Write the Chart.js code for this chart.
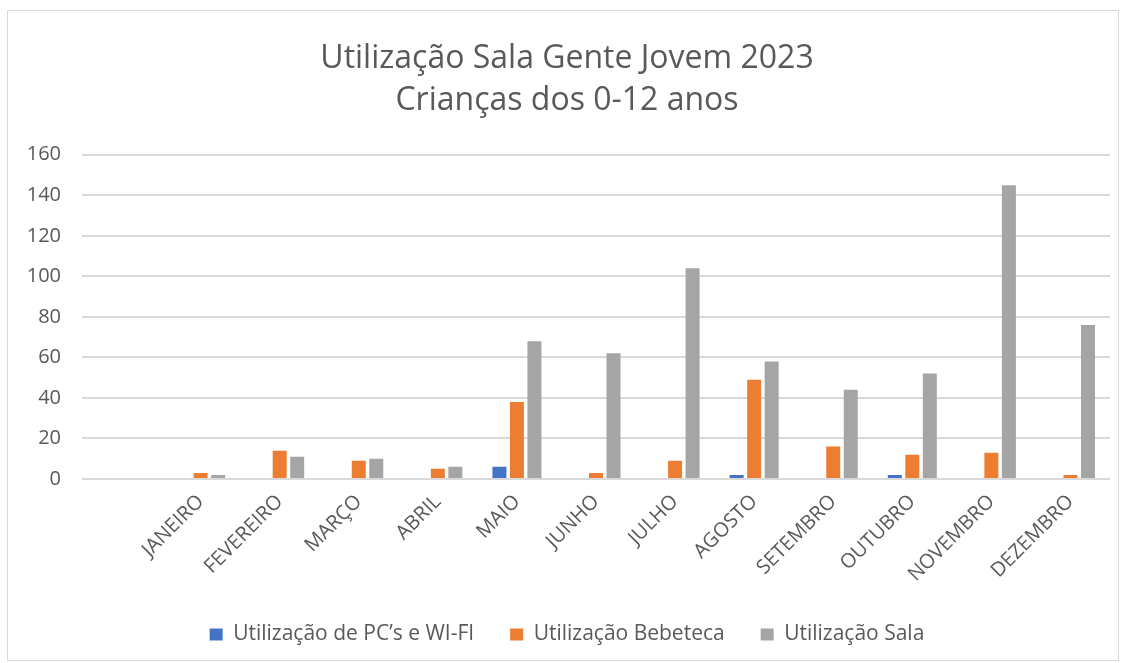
<!DOCTYPE html>
<html>
<head>
<meta charset="utf-8">
<script src="https://cdn.jsdelivr.net/npm/chart.js@4"></script>
<style>
  html, body { margin: 0; padding: 0; background: #fff; }
  #frame {
    position: absolute; left: 7px; top: 10px;
    width: 1110px; height: 649px;
    border: 1px solid #d9d9d9;
  }
</style>
</head>
<body>
<div id="frame"><canvas id="chart"></canvas></div>
<script>
// primeira categoria vazia, como no gráfico original
const meses = ['', 'JANEIRO', 'FEVEREIRO', 'MARÇO', 'ABRIL', 'MAIO', 'JUNHO', 'JULHO',
  'AGOSTO', 'SETEMBRO', 'OUTUBRO', 'NOVEMBRO', 'DEZEMBRO'];
const pcWifi   = [null, 0, 0, 0, 0, 6, 0, 0, 2, 0, 2, 0, 0];
const bebeteca = [null, 3, 14, 9, 5, 38, 3, 9, 49, 16, 12, 13, 2];
const sala     = [null, 2, 11, 10, 6, 68, 62, 104, 58, 44, 52, 145, 76];
const yTicks = [0, 20, 40, 60, 80, 100, 120, 140, 160];

const fonte = "'Open Sans', sans-serif";
const cinza = '#595959';

new Chart(document.getElementById('chart'), {
  type: 'bar',
  data: {
    labels: meses,
    datasets: [
      { label: 'Utilização de PC’s e WI-FI', data: pcWifi, backgroundColor: '#4472c4' },
      { label: 'Utilização Bebeteca', data: bebeteca, backgroundColor: '#ed7d31' },
      { label: 'Utilização Sala', data: sala, backgroundColor: '#a5a5a5' }
    ]
  },
  options: {
    responsive: true,
    maintainAspectRatio: false,
    animation: false,
    datasets: {
      bar: { categoryPercentage: 0.664, barPercentage: 0.8 }
    },
    layout: { padding: { left: 16, right: 8, top: 14, bottom: 5 } },
    plugins: {
      title: {
        display: true,
        text: ['Utilização Sala Gente Jovem 2023', 'Crianças dos 0-12 anos'],
        color: cinza,
        font: { family: fonte, size: 32, weight: 'normal', lineHeight: 1.34 },
        padding: { top: 12, bottom: 32 }
      },
      legend: {
        position: 'bottom',
        labels: {
          color: cinza,
          font: { family: fonte, size: 21 },
          boxWidth: 13, boxHeight: 12,
          padding: 36
        }
      },
      tooltip: { enabled: false }
    },
    scales: {
      x: {
        grid: { display: false },
        border: { display: false },
        ticks: {
          color: cinza,
          font: { family: fonte, size: 20 },
          maxRotation: 45, minRotation: 45,
          autoSkip: false
        },
        afterFit: s => { s.height = 109; }
      },
      y: {
        min: 0, max: 160,
        afterBuildTicks: s => { s.ticks = yTicks.map(v => ({ value: v })); },
        grid: { color: '#d9d9d9', lineWidth: 2, drawTicks: false },
        border: { display: false },
        ticks: {
          color: cinza,
          font: { family: fonte, size: 20 },
          padding: 21
        },
        afterFit: s => { s.width = 58; }
      }
    }
  }
});
</script>
</body>
</html>
